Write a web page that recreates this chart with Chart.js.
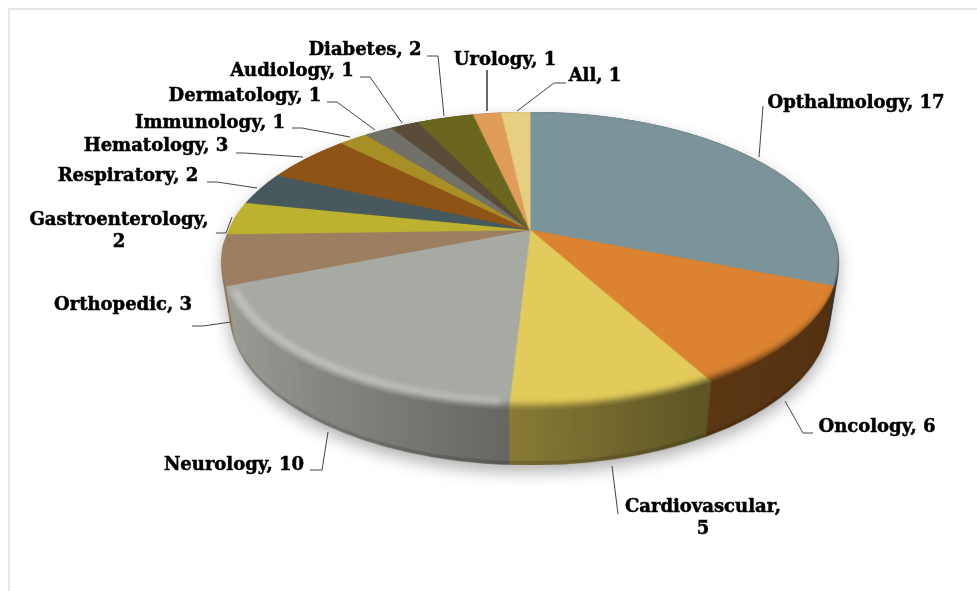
<!DOCTYPE html>
<html>
<head>
<meta charset="utf-8">
<style>
  html, body { margin: 0; padding: 0; background: #fff; overflow: hidden; }
  canvas { display: block; }
</style>
<script src="https://cdn.jsdelivr.net/npm/chart.js@4"></script>
</head>
<body>
<canvas id="pieChart" width="977" height="591"></canvas>
<script>
// Chart data
const categories = ['Opthalmology', 'Oncology', 'Cardiovascular', 'Neurology', 'Orthopedic', 'Gastroenterology', 'Respiratory', 'Hematology', 'Immunology', 'Dermatology', 'Audiology', 'Diabetes', 'Urology', 'All'];
const values = [17, 6, 5, 10, 3, 2, 2, 3, 1, 1, 1, 2, 1, 1];
const colors = ['#7b9499', '#db8330', '#e2cb5a', '#a7aaa2', '#9c7f61', '#bdb22f', '#48595e', '#8e5416', '#a88f25', '#717069', '#5a4c38', '#6b661f', '#e09c59', '#e4d080'];

// Label placement: centre x, centre y of first line, wrap flag
const labelX = [856, 877, 703, 234, 123, 119, 128, 156, 210, 245, 292, 365, 505, 595];
const labelY = [103, 427, 507, 465, 305, 220, 176, 146, 123, 96, 71, 50, 60, 76];
const labelWrap = [false, false, true, false, false, true, false, false, false, false, false, false, false, false];
const leaders = [
  [[763, 106], [759, 157]],
  [[813, 433], [803, 433], [785, 401]],
  [[618, 514], [612, 466]],
  [[310, 470], [322, 470], [328, 432]],
  [[192, 326], [203, 326], [231, 322]],
  [[216, 233], [226, 233], [232, 217]],
  [[207, 182], [217, 182], [257, 188]],
  [[236, 153], [244, 153], [303, 157]],
  [[292, 128], [302, 128], [350, 137]],
  [[327, 102], [337, 102], [375, 130]],
  [[360, 77], [370, 77], [402, 123]],
  [[427, 56], [438, 56], [444, 116]],
  [[487, 70], [487, 111]],
  [[566, 83], [554, 83], [517, 111]]
];

// View of the tilted disc
const apexX = 530, apexY = 230, topY = 112, bottomY = 410, halfWidth = 308, depth = 55, shrink = 0.03;
const persp = (2 * apexY - topY - bottomY) / (bottomY - topY);
const slope = bottomY * (1 + persp) - apexY;
const spread = halfWidth * Math.sqrt(1 - persp * persp);
const rimY = (topY + bottomY) / 2, rimRy = (bottomY - topY) / 2;

function project(u, v) { // unit circle point to screen
  const w = 1 + persp * v;
  return [apexX + spread * u / w, (slope * v + apexY) / w];
}

function newLayer(w, h) {
  const c = document.createElement('canvas');
  c.width = w;
  c.height = h;
  return c;
}

const discPlugin = {
  id: 'disc',
  afterDraw(chart) {
    const ctx = chart.ctx;
    const W = chart.width, H = chart.height;
    const arcs = chart.getDatasetMeta(0).data;
    const cx = arcs[0].x, cy = arcs[0].y, R = arcs[0].outerRadius;

    // flat pie as Chart.js drew it
    const flat = newLayer(W, H);
    flat.getContext('2d').drawImage(chart.canvas, 0, 0);

    // warp the flat pie row by row, at double size to keep edges smooth
    const big = newLayer(W * 2, H * 2);
    const bctx = big.getContext('2d');
    bctx.imageSmoothingQuality = 'high';
    for (let row = topY * 2; row < bottomY * 2; row++) {
      const Y = row / 2;
      const v0 = (Y - apexY) / (slope - persp * Y);
      const v1 = (Y + 0.5 - apexY) / (slope - persp * (Y + 0.5));
      const half = spread / (1 + persp * (v0 + v1) / 2);
      bctx.drawImage(flat, cx - R, cy + R * v0, 2 * R, Math.max(R * (v1 - v0), 0.5),
        (apexX - half) * 2, row, half * 4, 1);
    }
    const top = newLayer(W, H);
    const tctx = top.getContext('2d');
    tctx.imageSmoothingQuality = 'high';
    tctx.drawImage(big, 0, 0, W, H);

    // side wall: stacked copies narrowing with depth, then shaded left to right
    const wall = newLayer(W, H);
    const wctx = wall.getContext('2d');
    for (let dy = depth; dy >= 0; dy--) {
      const k = 1 - shrink * dy / depth;
      wctx.drawImage(top, apexX * (1 - k), dy, W * k, H);
      if (dy === depth - 3) { // darker lip at the bottom edge
        wctx.globalCompositeOperation = 'source-atop';
        wctx.fillStyle = 'rgba(0,0,0,0.14)';
        wctx.fillRect(0, 0, W, H);
        wctx.globalCompositeOperation = 'source-over';
      }
    }
    const shade = wctx.createLinearGradient(222, 0, 838, 0);
    shade.addColorStop(0, 'rgba(0,0,0,0.05)');
    shade.addColorStop(0.13, 'rgba(0,0,0,0.18)');
    shade.addColorStop(0.47, 'rgba(0,0,0,0.40)');
    shade.addColorStop(0.78, 'rgba(0,0,0,0.58)');
    shade.addColorStop(1, 'rgba(0,0,0,0.62)');
    wctx.globalCompositeOperation = 'source-atop';
    wctx.fillStyle = shade;
    wctx.fillRect(0, 0, W, H);

    // soft lower edge of the top face
    tctx.globalCompositeOperation = 'destination-in';
    tctx.filter = 'blur(3px)';
    tctx.beginPath();
    tctx.ellipse(apexX, rimY - 5, halfWidth + 6, rimRy, 0, 0, Math.PI * 2);
    tctx.fill();
    tctx.filter = 'none';

    // repaint page
    ctx.save();
    ctx.clearRect(0, 0, W, H);
    ctx.fillStyle = '#fff';
    ctx.fillRect(0, 0, W, H);
    ctx.strokeStyle = '#e6e6e6';
    ctx.lineWidth = 2;
    ctx.strokeRect(9, 9, W + 20, H + 20);

    ctx.save();
    ctx.shadowColor = 'rgba(0,0,0,0.30)';
    ctx.shadowBlur = 16;
    ctx.shadowOffsetY = 7;
    ctx.drawImage(wall, 0, 0);
    ctx.restore();
    ctx.drawImage(top, 0, 0);

    // rim highlight on the gray slice
    const grey = arcs[3];
    ctx.save();
    ctx.filter = 'blur(3px)';
    ctx.strokeStyle = 'rgba(255,255,255,0.5)';
    ctx.lineWidth = 4;
    ctx.beginPath();
    for (let a = grey.startAngle + 0.02; a <= grey.endAngle - 0.04; a += 0.02) {
      const p = project(Math.cos(a) * 0.985, Math.sin(a) * 0.975);
      ctx.lineTo(p[0], p[1] - 2);
    }
    ctx.stroke();
    ctx.restore();

    // leader lines
    ctx.strokeStyle = '#444';
    leaders.forEach((pts, i) => {
      ctx.lineWidth = i === 12 ? 1.6 : 1;
      ctx.beginPath();
      pts.forEach(p => ctx.lineTo(p[0], p[1]));
      ctx.stroke();
    });

    // labels
    ctx.fillStyle = '#000';
    ctx.strokeStyle = '#000';
    ctx.lineWidth = 0.5;
    ctx.font = 'bold 18px "DejaVu Serif"';
    ctx.textAlign = 'center';
    ctx.textBaseline = 'middle';
    const putText = (text, x, y) => {
      ctx.fillText(text, x, y);
      ctx.strokeText(text, x, y);
    };
    categories.forEach((name, i) => {
      if (labelWrap[i]) {
        putText(name + ',', labelX[i], labelY[i]);
        putText(String(values[i]), labelX[i], labelY[i] + 22);
      } else {
        putText(name + ', ' + values[i], labelX[i], labelY[i]);
      }
    });
    ctx.restore();
  }
};

new Chart(document.getElementById('pieChart').getContext('2d'), {
  type: 'pie',
  data: {
    labels: categories,
    datasets: [{
      data: values,
      backgroundColor: colors,
      borderColor: colors,
      borderWidth: 1
    }]
  },
  options: {
    responsive: false,
    animation: false,
    plugins: {
      legend: { display: false },
      tooltip: { enabled: false }
    }
  },
  plugins: [discPlugin]
});
</script>
</body>
</html>
